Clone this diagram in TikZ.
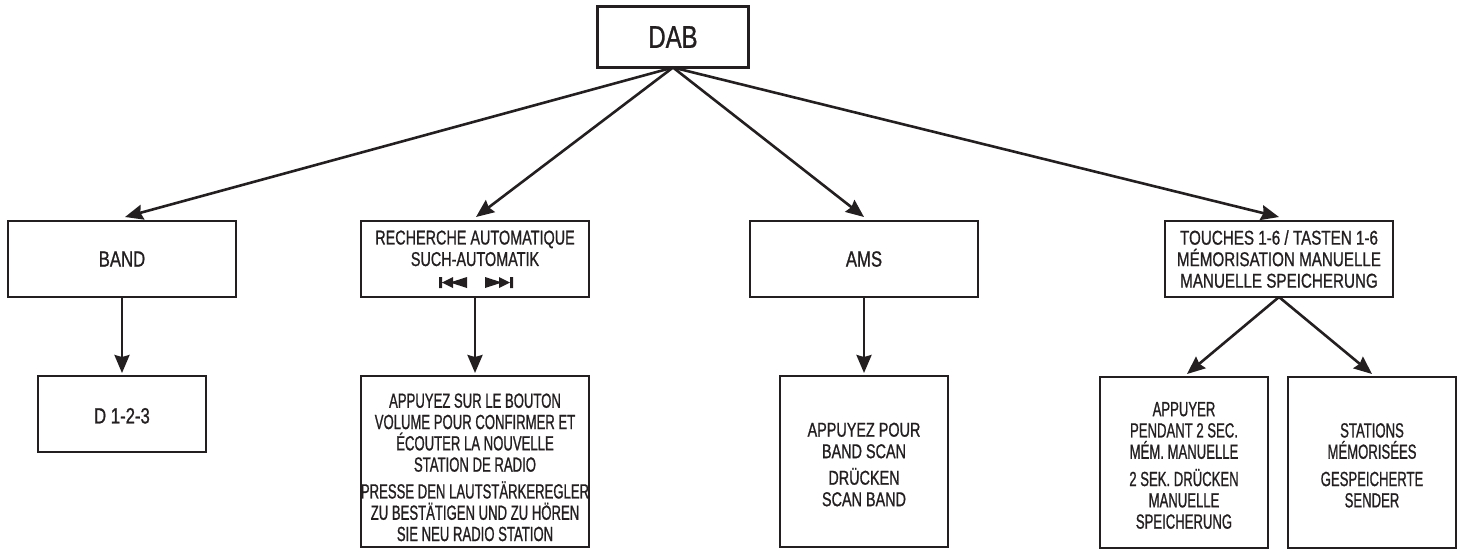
\documentclass[tikz,border=0pt]{standalone}
\usepackage{fontspec}
\usepackage{tikz}
\usetikzlibrary{arrows.meta,positioning}
\newfontfamily\slimfont[FakeStretch=0.64,FakeBold=0.9]{Liberation Sans}
\newfontfamily\midfont[FakeStretch=0.72,FakeBold=0.9]{Liberation Sans}
\newfontfamily\widefont[FakeStretch=0.76,FakeBold=0.9]{Liberation Sans}
\definecolor{inkblack}{HTML}{231F20}
\tikzset{
  box/.style={draw=inkblack,text=inkblack,line width=2.6pt,outer sep=0pt,inner sep=0pt,align=center},
  label big/.style={font=\widefont\fontsize{22}{22}\selectfont},
  label mid/.style={font=\midfont\fontsize{20}{21.5}\selectfont},
  label slim/.style={font=\slimfont\fontsize{20.5}{21.3}\selectfont},
  top/.style={box,minimum width=228pt,minimum height=76pt},
  low/.style={box,minimum width=168pt,minimum height=171pt},
  skip prev/.pic={\fill[inkblack] (-14,-5.5) rectangle (-11,5.5) (-11,0) -- (0,-5.5) -- (0,5.5) -- cycle (-3,0) -- (14,-5.5) -- (14,5.5) -- cycle;},
  skip next/.pic={\fill[inkblack] (14,-5.5) rectangle (11,5.5) (11,0) -- (0,-5.5) -- (0,5.5) -- cycle (3,0) -- (-14,-5.5) -- (-14,5.5) -- cycle;}
}

\begin{document}
\begin{tikzpicture}[x=1pt,y=-1pt,node distance=79pt,>={Stealth[length=18pt,width=15pt,inset=2pt]}]
 \useasboundingbox (0,0) rectangle (1458,550);
 \node[box,minimum width=151pt,minimum height=61pt,font=\widefont\fontsize{31.5}{32}\selectfont] (b_dab) at (673,37) {DAB};
 \node[top,label big] (b_band) at (122,259) {BAND};
 \node[top,label mid] (b_search) at (475,259) {RECHERCHE AUTOMATIQUE\\SUCH-AUTOMATIK\\~};
 \node[top,label big] (b_ams) at (864,259) {AMS};
 \node[top,font=\widefont\fontsize{20}{21.5}\selectfont] (b_keys) at (1279,259) {TOUCHES 1-6 / TASTEN 1-6\\MÉMORISATION MANUELLE\\MANUELLE SPEICHERUNG};
 \node[low,label big,minimum height=76pt] (b_d) [below=of b_band] {\rule{0pt}{19pt}D 1-2-3};
 \node[low,label slim,minimum width=228pt] (b_confirm) [below=of b_search] {\rule{0pt}{26pt}APPUYEZ SUR LE BOUTON\\VOLUME POUR CONFIRMER ET\\ÉCOUTER LA NOUVELLE\\STATION DE RADIO\\[5.5pt]PRESSE DEN LAUTSTÄRKEREGLER\\ZU BESTÄTIGEN UND ZU HÖREN\\SIE NEU RADIO STATION};
 \node[low,label mid] (b_scan) [below=of b_ams] {\rule{0pt}{20pt}APPUYEZ POUR\\BAND SCAN\\[5pt]DRÜCKEN\\SCAN BAND};
 \node[low,label slim] (b_press) at (1184,462.5) {\rule{0pt}{20pt}APPUYER\\PENDANT 2 SEC.\\MÉM. MANUELLE\\[6pt]2 SEK. DRÜCKEN\\MANUELLE\\SPEICHERUNG};
 \node[low,label slim] (b_stored) [right=20pt of b_press] {\rule{0pt}{20pt}STATIONS\\MÉMORISÉES\\[6pt]GESPEICHERTE\\SENDER};
 \pic at (453,282.5) {skip prev};
 \pic at (499,282.5) {skip next};
 \path[->,color=inkblack,line width=2.6pt]
 (b_dab.south) edge ([shift={(3,-4)}]b_band.north)
 (b_dab.south) edge ([shift={(1,-4)}]b_search.north)
 (b_dab.south) edge ([yshift=4pt]b_ams.north)
 (b_dab.south) edge ([yshift=4pt]b_keys.north)
 (b_band.south) edge ([yshift=3pt]b_d.north)
 (b_search.south) edge ([yshift=3pt]b_confirm.north)
 (b_ams.south) edge ([yshift=3pt]b_scan.north)
 (b_keys.south) edge ([shift={(3,-3)}]b_press.north)
 (b_keys.south) edge ([yshift=3pt]b_stored.north);
\end{tikzpicture}
\end{document}
